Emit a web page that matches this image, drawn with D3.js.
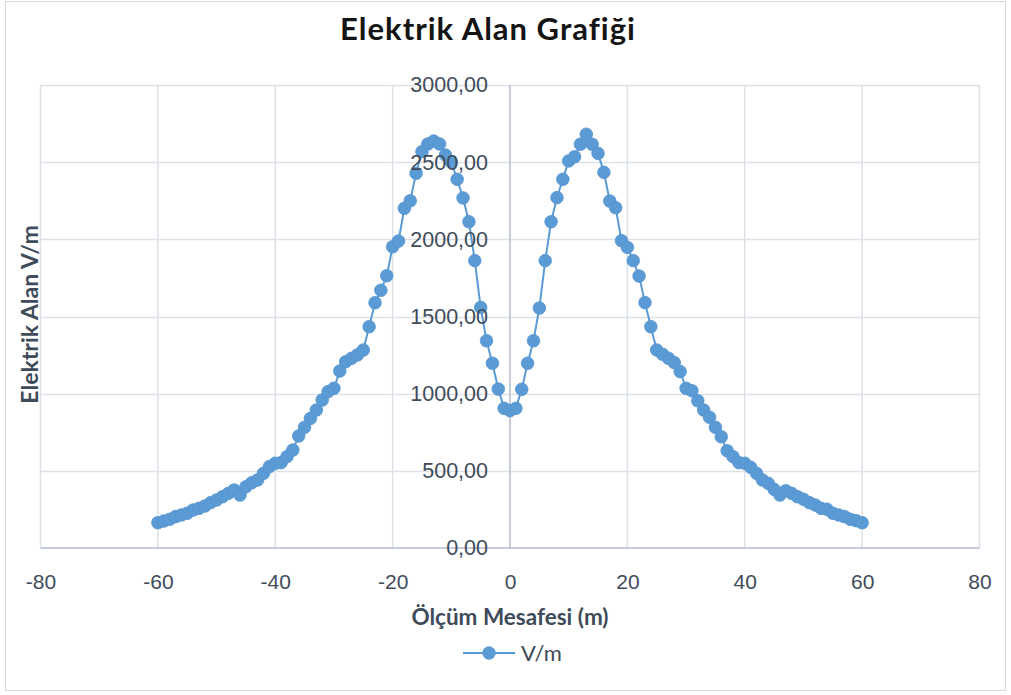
<!DOCTYPE html>
<html>
<head>
<meta charset="utf-8">
<script src="https://cdn.jsdelivr.net/npm/d3@7/dist/d3.min.js"></script>
<style>
  html, body { margin: 0; padding: 0; background: #ffffff; }
  svg { display: block; font-family: Lato, "Open Sans", sans-serif; }
</style>
</head>
<body>
<svg id="chart" width="1011" height="695"></svg>
<script>
// Measurement positions (m)
const distances = [
  -60, -59, -58, -57, -56, -55, -54, -53, -52, -51,
  -50, -49, -48, -47, -46, -45, -44, -43, -42, -41,
  -40, -39, -38, -37, -36, -35, -34, -33, -32, -31,
  -30, -29, -28, -27, -26, -25, -24, -23, -22, -21,
  -20, -19, -18, -17, -16, -15, -14, -13, -12, -11,
  -10, -9, -8, -7, -6, -5, -4, -3, -2, -1,
  0,
  1, 2, 3, 4, 5, 6, 7, 8, 9, 10,
  11, 12, 13, 14, 15, 16, 17, 18, 19, 20,
  21, 22, 23, 24, 25, 26, 27, 28, 29, 30,
  31, 32, 33, 34, 35, 36, 37, 38, 39, 40,
  41, 42, 43, 44, 45, 46, 47, 48, 49, 50,
  51, 52, 53, 54, 55, 56, 57, 58, 59, 60
];

// Electric field strength at each position (V/m)
const fieldValues = [
  164, 175, 186, 203, 214, 225, 246, 257, 272, 294,
  311, 332, 354, 376, 343, 397, 423, 441, 484, 527,
  549, 553, 592, 635, 726, 782, 840, 894, 959, 1013,
  1035, 1147, 1207, 1229, 1251, 1283, 1434, 1589, 1670, 1764,
  1952, 1989, 2201, 2250, 2428, 2568, 2618, 2637, 2618, 2546,
  2500, 2389, 2268, 2114, 1862, 1559, 1343, 1197, 1030, 905,
  890,
  905, 1028, 1197, 1343, 1555, 1862, 2114, 2270, 2389, 2508,
  2535, 2616, 2681, 2616, 2557, 2434, 2248, 2205, 1991, 1948,
  1862, 1762, 1590, 1434, 1283, 1255, 1229, 1201, 1143, 1035,
  1019, 954, 894, 847, 782, 721, 630, 592, 553, 549,
  523, 484, 441, 419, 380, 343, 371, 354, 332, 316,
  294, 279, 257, 251, 225, 214, 203, 186, 177, 164
];

const xTicks = [-80, -60, -40, -20, 0, 20, 40, 60, 80];
const yTicks = [0, 500, 1000, 1500, 2000, 2500, 3000];

const chartTitle = "Elektrik Alan Grafiği";
const xTitle = "Ölçüm Mesafesi (m)";
const yTitle = "Elektrik Alan V/m";
const seriesName = "V/m";

const points = distances.map((d, i) => ({ x: d, y: fieldValues[i] }));

const trLocale = d3.formatLocale({
  decimal: ",", thousands: ".", grouping: [3], currency: ["", ""], minus: "-"
});
const fmtY = trLocale.format(".2f");
const fmtX = trLocale.format("d");

const svg = d3.select("#chart");
const W = 1011, H = 695;
const plot = { left: 40.5, right: 979.5, top: 85, bottom: 548 };

const x = d3.scaleLinear().domain([-80, 80]).range([plot.left, plot.right]);
const y = d3.scaleLinear().domain([0, 3000]).range([plot.bottom, plot.top]);

const seriesColor = "#5b9bd5";
const gridColor = "#dde1e8";
const axisColor = "#b3bccb";
const labelColor = "#404b5a";

// Chart frame
svg.append("rect")
  .attr("x", 5.5).attr("y", 1.5)
  .attr("width", W - 11).attr("height", H - 6)
  .attr("fill", "#ffffff")
  .attr("stroke", "#d9d9d9").attr("stroke-width", 1);

// Gridlines
const grid = svg.append("g");
grid.selectAll(".hgrid").data(yTicks.filter(t => t !== 0)).join("line")
  .attr("x1", plot.left).attr("x2", plot.right)
  .attr("y1", d => Math.round(y(d)) + 0.5).attr("y2", d => Math.round(y(d)) + 0.5)
  .attr("stroke", gridColor).attr("stroke-width", 1.5);
grid.selectAll(".vgrid").data(xTicks.filter(t => t !== 0)).join("line")
  .attr("x1", d => x(d)).attr("x2", d => x(d))
  .attr("y1", plot.top).attr("y2", plot.bottom)
  .attr("stroke", gridColor).attr("stroke-width", 1.5);

// Axis lines (drawn beneath the series)
svg.append("line")
  .attr("x1", plot.left).attr("x2", plot.right)
  .attr("y1", y(0)).attr("y2", y(0))
  .attr("stroke", axisColor).attr("stroke-width", 1.5);
svg.append("line")
  .attr("x1", x(0)).attr("x2", x(0))
  .attr("y1", plot.top).attr("y2", plot.bottom)
  .attr("stroke", axisColor).attr("stroke-width", 1.5);

// Series line and markers
const line = d3.line().x(d => x(d.x)).y(d => y(d.y));
svg.append("path")
  .datum(points)
  .attr("d", line)
  .attr("fill", "none")
  .attr("stroke", seriesColor)
  .attr("stroke-width", 2);

svg.append("g").selectAll("circle").data(points).join("circle")
  .attr("cx", d => x(d.x))
  .attr("cy", d => y(d.y))
  .attr("r", 6.3)
  .attr("fill", seriesColor)
  .attr("stroke", "#5794cf")
  .attr("stroke-width", 0.8);

// Axis labels
const xAxis = d3.axisBottom(x).tickValues(xTicks).tickFormat(fmtX).tickSize(0).tickPadding(26);
const gx = svg.append("g").attr("transform", `translate(0,${y(0)})`).call(xAxis);
gx.select(".domain").remove();
gx.selectAll("text").attr("fill", labelColor).style("font-size", "21px");

const yAxis = d3.axisLeft(y).tickValues(yTicks).tickFormat(fmtY).tickSize(0).tickPadding(22);
const gy = svg.append("g").attr("transform", `translate(${x(0)},0)`).call(yAxis);
gy.select(".domain").remove();
gy.selectAll("text").attr("fill", labelColor).style("font-size", "21.5px");

// Titles
svg.append("text")
  .attr("x", 488).attr("y", 40)
  .attr("text-anchor", "middle")
  .attr("fill", "#141414")
  .style("font-size", "31px").style("font-weight", "bold")
  .style("letter-spacing", "1px")
  .text(chartTitle);

svg.append("text")
  .attr("x", 510).attr("y", 625)
  .attr("text-anchor", "middle")
  .attr("fill", labelColor)
  .style("font-size", "22.5px").style("font-weight", "bold")
  .text(xTitle);

svg.append("text")
  .attr("transform", `translate(38,${(plot.top + plot.bottom) / 2 - 2}) rotate(-90)`)
  .attr("text-anchor", "middle")
  .attr("fill", labelColor)
  .style("font-size", "23px").style("font-weight", "bold")
  .text(yTitle);

// Legend
const legend = svg.append("g").attr("transform", "translate(463,653)");
legend.append("line")
  .attr("x1", 0).attr("x2", 52).attr("y1", 0).attr("y2", 0)
  .attr("stroke", seriesColor).attr("stroke-width", 2);
legend.append("circle")
  .attr("cx", 26).attr("cy", 0).attr("r", 6.3)
  .attr("fill", seriesColor).attr("stroke", "#5794cf").attr("stroke-width", 0.8);
legend.append("text")
  .attr("x", 58).attr("y", 8)
  .attr("fill", labelColor)
  .style("font-size", "22px")
  .text(seriesName);
</script>
</body>
</html>
